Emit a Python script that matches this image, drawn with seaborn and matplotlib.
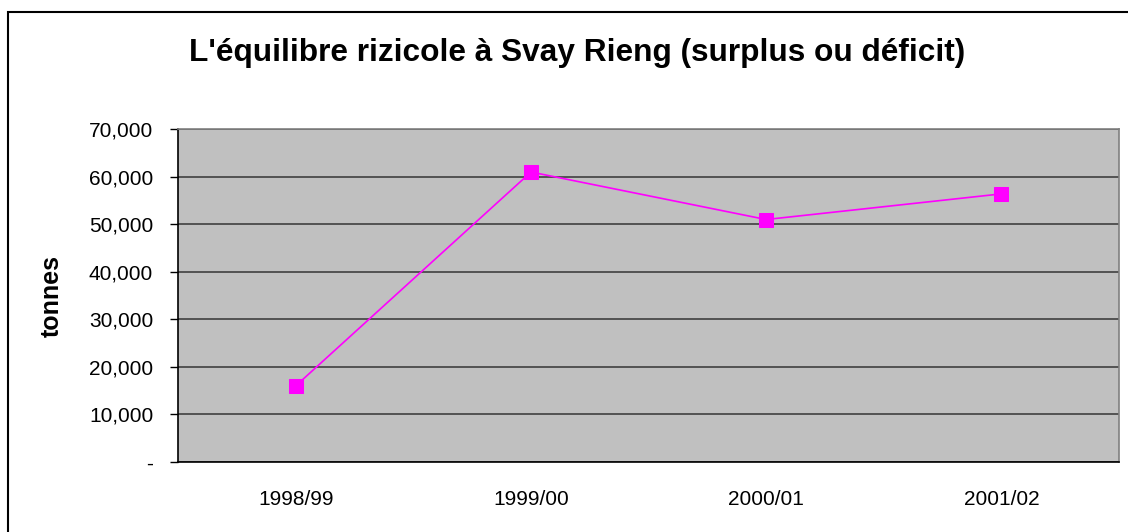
import matplotlib
matplotlib.use("Agg")
import matplotlib.pyplot as plt
import seaborn as sns
import pandas as pd
from matplotlib.ticker import FuncFormatter, FixedLocator
from matplotlib.patches import Rectangle

# -------- Data --------
campagnes = ["1998/99", "1999/00", "2000/01", "2001/02"]
surplus = [16000, 61000, 51000, 56400]

df = pd.DataFrame({"campagne": campagnes, "tonnes": surplus})

# -------- Style --------
sns.set_style("white")
plt.rcParams["font.family"] = ["Liberation Sans", "DejaVu Sans"]
plt.rcParams["text.color"] = "black"
plt.rcParams["axes.labelcolor"] = "black"
plt.rcParams["xtick.color"] = "black"
plt.rcParams["ytick.color"] = "black"

fig = plt.figure(figsize=(11.28, 5.32), dpi=100)
ax = fig.add_axes([0.158, 0.132, 0.834, 0.625])
ax.set_facecolor("#C0C0C0")

sns.lineplot(data=df, x="campagne", y="tonnes", ax=ax, color="#FF00FF",
             marker="s", markersize=10, markeredgecolor="#FF00FF",
             linewidth=1.2, sort=False)

ax.set_xlim(-0.5, len(campagnes) - 0.5)
ax.set_ylim(0, 70000)
ax.set_yticks(range(0, 70001, 10000))
ax.yaxis.set_major_formatter(FuncFormatter(lambda v, p: "-" if v == 0 else f"{int(v):,}"))
ax.grid(axis="y", color="#404040", linewidth=1.2)
ax.set_axisbelow(True)

# category labels centred, tick marks on the boundaries
ax.xaxis.set_minor_locator(FixedLocator([i - 0.5 for i in range(len(campagnes) + 1)]))
ax.tick_params(axis="x", which="major", length=0, pad=20, labelsize=15)
ax.tick_params(axis="x", which="minor", length=6, width=1, color="black", direction="out")
ax.tick_params(axis="y", length=6, width=1, color="black", direction="out",
               labelsize=15, left=True, pad=12)

for s in ["left", "bottom"]:
    ax.spines[s].set_color("black")
    ax.spines[s].set_linewidth(1.2)
for s in ["top", "right"]:
    ax.spines[s].set_color("#808080")
    ax.spines[s].set_linewidth(1.2)

ax.set_xlabel("")
ax.set_ylabel("tonnes", fontsize=18, fontweight="bold", labelpad=18)

fig.text(0.512, 0.885, "L'équilibre rizicole à Svay Rieng (surplus ou déficit)",
         ha="center", va="baseline", fontsize=22.8, fontweight="bold")

# outer chart frame
fig.patches.append(Rectangle((8 / 1128, -0.1), 1.2, 1 - 12 / 532 + 0.1,
                             transform=fig.transFigure, fill=False,
                             edgecolor="black", linewidth=1.5))

plt.savefig("out.png", dpi=100)
plt.close()
